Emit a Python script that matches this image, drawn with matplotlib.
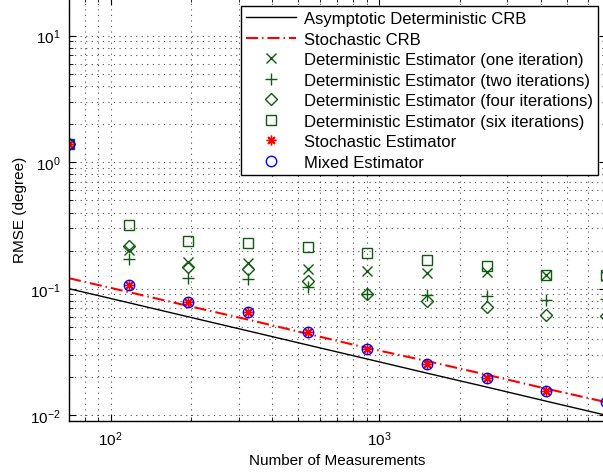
import matplotlib
matplotlib.use("Agg")
import matplotlib.pyplot as plt
import numpy as np

plt.rcParams['font.family'] = ['Liberation Sans', 'DejaVu Sans']
plt.rcParams['mathtext.fontset'] = 'custom'
plt.rcParams['mathtext.rm'] = 'Liberation Sans'
plt.rcParams['mathtext.it'] = 'Liberation Sans'

# number of measurements
n_meas = [70, 117, 195, 325, 542, 904, 1508, 2516, 4197, 7000]

# bounds
crb_det = [0.1, 0.0774, 0.0599, 0.0464, 0.0359, 0.0278, 0.0215, 0.0167, 0.0129, 0.01]
crb_sto = [0.121, 0.094, 0.073, 0.057, 0.044, 0.034, 0.0268, 0.0209, 0.0162, 0.0127]

# estimators
det_one = [1.38, 0.201, 0.163, 0.161, 0.142, 0.137, 0.133, 0.136, 0.128, 0.127]
det_two = [1.38, 0.171, 0.122, 0.120, 0.103, 0.0915, 0.0887, 0.0877, 0.081, 0.083]
det_four = [1.38, 0.216, 0.149, 0.142, 0.115, 0.0915, 0.0796, 0.0718, 0.0617, 0.061]
det_six = [1.38, 0.316, 0.238, 0.231, 0.214, 0.190, 0.170, 0.151, 0.129, 0.128]
sto_est = [1.38, 0.107, 0.078, 0.066, 0.0453, 0.0335, 0.0252, 0.0196, 0.0156, 0.0127]
mixed_est = [1.38, 0.107, 0.078, 0.066, 0.0453, 0.0335, 0.0252, 0.0196, 0.0156, 0.0127]

green = '#0f5c0f'

fig = plt.figure(figsize=(6.03, 4.77), dpi=100)
ax = fig.add_axes([69 / 603, 55 / 477, 537 / 603, 423.4 / 477])

ax.plot(n_meas, crb_det, color='k', lw=1.0, label='Asymptotic Deterministic CRB')
ax.plot(n_meas, crb_sto, color='r', lw=1.5, dashes=(5.8, 1.9, 0.7, 1.9),
        label='Stochastic CRB')
ax.plot(n_meas, det_one, ls='none', marker='x', ms=7, mew=1.0, color=green,
        label='Deterministic Estimator (one iteration)')
ax.plot(n_meas, det_two, ls='none', marker='+', ms=8, mew=1.0, color=green,
        label='Deterministic Estimator (two iterations)')
ax.plot(n_meas, det_four, ls='none', marker='D', ms=6.5, mew=1.0, mfc='none',
        mec=green, label='Deterministic Estimator (four iterations)')
ax.plot(n_meas, det_six, ls='none', marker='s', ms=6.5, mew=1.0, mfc='none',
        mec=green, label='Deterministic Estimator (six iterations)')
ax.plot(n_meas, sto_est, ls='none', marker=(8, 2, 0), ms=7, mew=1.0, color='r',
        label='Stochastic Estimator')
ax.plot(n_meas, mixed_est, ls='none', marker='o', ms=7.5, mew=1.0, mfc='none',
        mec='b', label='Mixed Estimator')

ax.set_xscale('log')
ax.set_yscale('log')
ax.set_xlim(70, 7000)
ax.set_ylim(0.009, 20)

ax.grid(True, which='both', ls=(0, (1, 4)), color='k', lw=0.8, alpha=0.7)
ax.tick_params(which='both', direction='in', top=True, right=True, labelsize=11)
ax.tick_params(which='major', length=5, pad=6)
ax.tick_params(which='minor', length=3)
for s in ax.spines.values():
    s.set_linewidth(1.0)

ax.set_xlabel('Number of Measurements', fontsize=11, labelpad=4)
ax.set_ylabel('RMSE (degree)', fontsize=11, labelpad=2)

leg = ax.legend(loc='upper right', bbox_to_anchor=(597.7 / 603, 1 - 7.3 / 477),
                bbox_transform=fig.transFigure, borderaxespad=0, fontsize=12,
                fancybox=False, framealpha=1, edgecolor='k', handlelength=3.0,
                handletextpad=0.45, labelspacing=0.33, borderpad=0.3)
leg.get_frame().set_linewidth(1.0)

fig.savefig('out.png', dpi=100)
